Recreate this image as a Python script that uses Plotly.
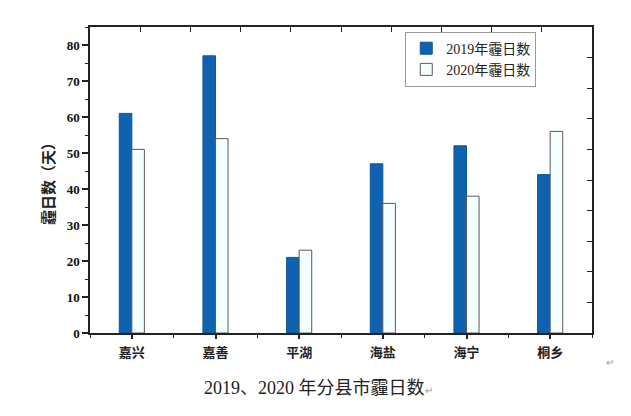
import plotly.graph_objects as go

categories = ["嘉兴", "嘉善", "平湖", "海盐", "海宁", "桐乡"]
days_2019 = [61, 77, 21, 47, 52, 44]
days_2020 = [51, 54, 23, 36, 38, 56]
series_names = ["2019年霾日数", "2020年霾日数"]
y_title = "霾日数（天）"
caption = "2019、2020 年分县市霾日数"

xs = list(range(len(categories)))
serif = "Liberation Serif, Times New Roman, Noto Sans CJK SC, serif"
cjk_bold = "Noto Sans CJK SC, sans-serif"

fig = go.Figure()
fig.add_trace(go.Bar(
    x=xs, y=days_2019, name=series_names[0],
    marker=dict(color="#0F62B0", line=dict(color="#0D559C", width=1)),
))
fig.add_trace(go.Bar(
    x=xs, y=days_2020, name=series_names[1],
    marker=dict(color="#F4FFFF", line=dict(color="#5A5A5A", width=1)),
))
# empty trace to activate the mirrored top/right axes
fig.add_trace(go.Scatter(x=[], y=[], xaxis="x2", yaxis="y2", showlegend=False, hoverinfo="skip"))

fig.update_layout(
    width=631, height=416,
    margin=dict(l=90, r=39, t=27, b=83),
    paper_bgcolor="white", plot_bgcolor="white",
    barmode="group", bargap=0.7, bargroupgap=0,
    showlegend=True,
    legend=dict(
        x=0.628, y=0.985, xanchor="left", yanchor="top",
        bgcolor="white", bordercolor="#999999", borderwidth=1,
        font=dict(family=serif, size=14, color="#222"),
        tracegroupgap=0, itemwidth=30,
    ),
    xaxis=dict(
        range=[-0.5, 5.5], tickvals=xs, ticktext=categories,
        tickfont=dict(family=cjk_bold, size=13, color="#222", weight="bold"),
        ticks="outside", ticklen=4, tickwidth=1.5, tickcolor="#222",
        minor=dict(tick0=0.5, dtick=1, ticks="outside", ticklen=3, tickwidth=1.2, tickcolor="#222"),
        showline=True, linecolor="#222", linewidth=1.5, showgrid=False, zeroline=False,
        ticklabelstandoff=3,
    ),
    yaxis=dict(
        range=[0, 85], dtick=10, tick0=0,
        tickfont=dict(family=serif, size=13, color="#111", weight="bold"),
        ticks="outside", ticklen=6, tickwidth=1.5, tickcolor="#222",
        minor=dict(dtick=5, ticks="outside", ticklen=3, tickwidth=1.2, tickcolor="#222"),
        showline=True, linecolor="#222", linewidth=1.5, showgrid=False, zeroline=False,
        title=dict(text=y_title, font=dict(family=cjk_bold, size=15, color="#222", weight="bold"), standoff=8),
    ),
    xaxis2=dict(
        overlaying="x", side="top", anchor="y2", range=[0, 10], tickvals=list(range(11)),
        showticklabels=False, ticks="inside", ticklen=5, tickwidth=1.2, tickcolor="#222",
        showline=True, linecolor="#222", linewidth=1.5, showgrid=False, zeroline=False,
    ),
    yaxis2=dict(
        overlaying="y", side="right", anchor="x2", range=[0, 10], tickvals=list(range(11)),
        showticklabels=False, ticks="inside", ticklen=5, tickwidth=1.2, tickcolor="#222",
        showline=True, linecolor="#222", linewidth=1.5, showgrid=False, zeroline=False,
    ),
    annotations=[
        dict(text=caption + "<span style='font-size:10px;color:#999'>↵</span>",
             xref="paper", yref="paper", x=0.455, y=-0.18,
             xanchor="center", yanchor="middle", showarrow=False,
             font=dict(family=serif, size=18, color="#222")),
        dict(text="↵", xref="paper", yref="paper", x=1.035, y=-0.095,
             xanchor="center", yanchor="middle", showarrow=False,
             font=dict(family=serif, size=10, color="#999")),
    ],
)

fig.write_html("out.html")
